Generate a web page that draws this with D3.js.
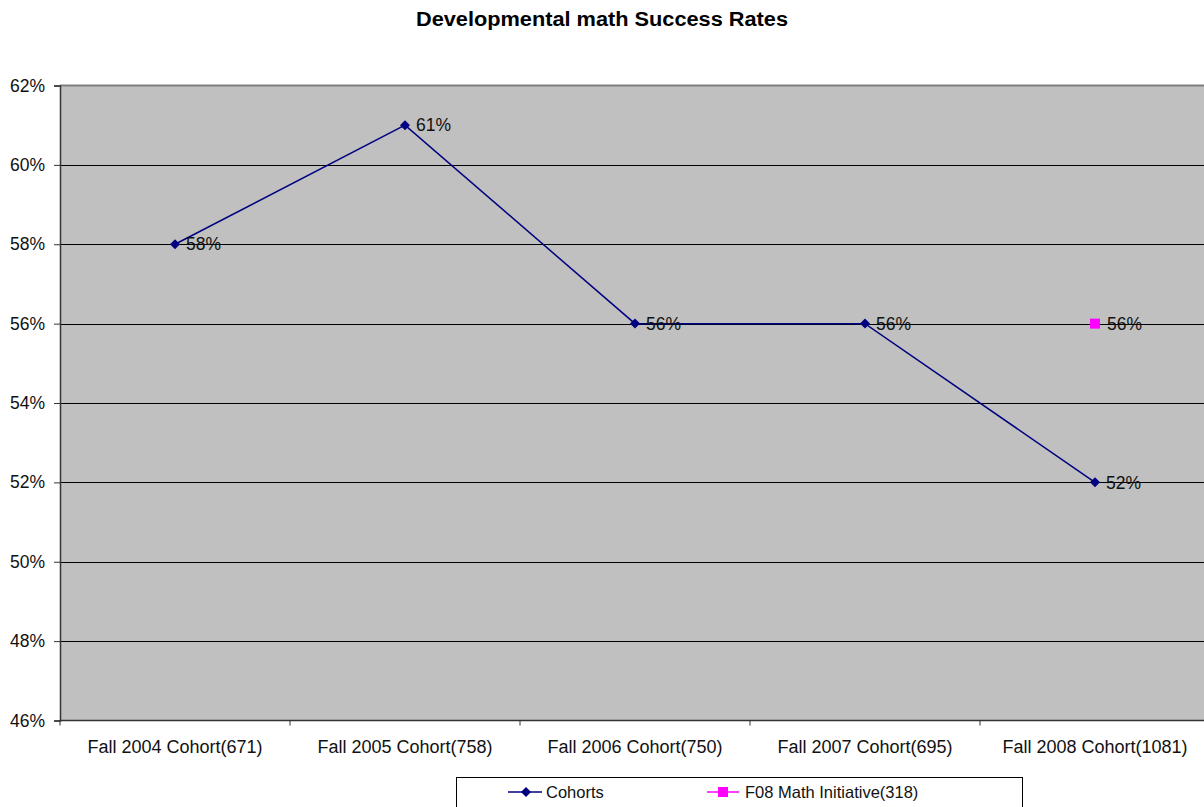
<!DOCTYPE html>
<html>
<head>
<meta charset="utf-8">
<script src="https://cdn.jsdelivr.net/npm/d3@7"></script>
<style>
  html, body { margin: 0; padding: 0; background: #fff; }
  svg { display: block; font-family: "Liberation Sans", Arial, sans-serif; }
</style>
</head>
<body>
<svg id="chart" width="1204" height="807"></svg>
<script>
// Category labels along the x axis
const categories = [
  "Fall 2004 Cohort(671)",
  "Fall 2005 Cohort(758)",
  "Fall 2006 Cohort(750)",
  "Fall 2007 Cohort(695)",
  "Fall 2008 Cohort(1081)"
];
// Success rate for each cohort
const cohortRates = [0.58, 0.61, 0.56, 0.56, 0.52];
// F08 Math Initiative: only the final cohort has a value
const initiativeRates = [null, null, null, null, 0.56];
// Y-axis ticks
const yTicks = [0.46, 0.48, 0.50, 0.52, 0.54, 0.56, 0.58, 0.60, 0.62];

const seriesNames = ["Cohorts", "F08 Math Initiative(318)"];
const colors = { cohorts: "#000080", initiative: "#FF00FF" };
const FONT = "'Liberation Sans', Arial, sans-serif";
const FS = 17.5;

const svg = d3.select("#chart");
const plot = { left: 60, right: 1210, top: 85.5, bottom: 720.5 };

const x = d3.scaleBand().domain(categories).range([plot.left, plot.right]).padding(0);
const y = d3.scaleLinear().domain([0.46, 0.62]).range([plot.bottom, plot.top]);
const pct = d3.format(".0%");

// Title
svg.append("text")
  .attr("x", 602).attr("y", 26)
  .attr("text-anchor", "middle")
  .attr("font-size", 20).attr("font-weight", "bold")
  .attr("textLength", 372).attr("lengthAdjust", "spacingAndGlyphs")
  .attr("fill", "#000")
  .text("Developmental math Success Rates");

// Plot background
svg.append("rect")
  .attr("x", plot.left).attr("y", plot.top)
  .attr("width", plot.right - plot.left).attr("height", plot.bottom - plot.top)
  .attr("fill", "#C0C0C0");

// Top border
svg.append("line")
  .attr("x1", plot.left).attr("x2", plot.right)
  .attr("y1", plot.top).attr("y2", plot.top)
  .attr("stroke", "#808080").attr("stroke-width", 2);

// Horizontal gridlines
svg.append("g")
  .selectAll("line")
  .data(yTicks.filter(d => d > 0.46 && d < 0.62))
  .join("line")
  .attr("x1", plot.left).attr("x2", plot.right)
  .attr("y1", d => Math.round(y(d)) + 0.5).attr("y2", d => Math.round(y(d)) + 0.5)
  .attr("stroke", "#000").attr("stroke-width", 1);

// Y axis
const yAxis = d3.axisLeft(y).tickValues(yTicks).tickFormat(pct).tickSize(6).tickPadding(9);
const gy = svg.append("g").attr("transform", `translate(${plot.left},0)`).call(yAxis);
gy.attr("font-size", null).attr("font-family", null);
gy.select(".domain").attr("stroke", "#333").attr("stroke-width", 1.5);
gy.selectAll(".tick line").attr("stroke", "#333");
gy.selectAll(".tick text").attr("font-size", FS).attr("fill", "#111")
  .attr("font-family", FONT);

// X axis with ticks at category boundaries
const boundaries = categories.map(c => x(c)).concat([plot.right]);
const gx = svg.append("g");
gx.append("line")
  .attr("x1", plot.left).attr("x2", plot.right)
  .attr("y1", plot.bottom).attr("y2", plot.bottom)
  .attr("stroke", "#333").attr("stroke-width", 1.5);
gx.selectAll("line.tick")
  .data(boundaries)
  .join("line").attr("class", "tick")
  .attr("x1", d => d).attr("x2", d => d)
  .attr("y1", plot.bottom).attr("y2", plot.bottom + 5)
  .attr("stroke", "#333");
gx.selectAll("text")
  .data(categories)
  .join("text")
  .attr("x", d => x(d) + x.bandwidth() / 2)
  .attr("y", 753)
  .attr("text-anchor", "middle")
  .attr("font-size", 18).attr("fill", "#111")
  .text(d => d);

const cx = i => x(categories[i]) + x.bandwidth() / 2;

// Cohorts line
const line = d3.line().defined(d => d != null).x((d, i) => cx(i)).y(d => y(d));
svg.append("path")
  .datum(cohortRates)
  .attr("fill", "none")
  .attr("stroke", colors.cohorts)
  .attr("stroke-width", 1.5)
  .attr("d", line);

// Diamond markers
const diamondPath = d3.symbol().type(d3.symbolSquare).size(50);
svg.append("g")
  .selectAll("path")
  .data(cohortRates)
  .join("path")
  .attr("d", diamondPath)
  .attr("transform", (d, i) => `translate(${cx(i)},${y(d)}) rotate(45)`)
  .attr("fill", colors.cohorts);

// Cohort value labels
svg.append("g")
  .selectAll("text")
  .data(cohortRates)
  .join("text")
  .attr("x", (d, i) => cx(i) + 11)
  .attr("y", d => y(d))
  .attr("dy", "0.35em")
  .attr("font-size", FS).attr("fill", "#111")
  .text(d => pct(d));

// Initiative marker and label
const initPts = initiativeRates.map((d, i) => ({ v: d, i })).filter(p => p.v != null);
svg.append("g")
  .selectAll("rect")
  .data(initPts)
  .join("rect")
  .attr("x", p => cx(p.i) - 5).attr("y", p => y(p.v) - 5)
  .attr("width", 10).attr("height", 10)
  .attr("fill", colors.initiative);
svg.append("g")
  .selectAll("text")
  .data(initPts)
  .join("text")
  .attr("x", p => cx(p.i) + 12)
  .attr("y", p => y(p.v))
  .attr("dy", "0.35em")
  .attr("font-size", FS).attr("fill", "#111")
  .text(p => pct(p.v));

// Legend
const legend = svg.append("g");
legend.append("rect")
  .attr("x", 456.5).attr("y", 777.5)
  .attr("width", 566).attr("height", 40)
  .attr("fill", "#fff").attr("stroke", "#000").attr("stroke-width", 1);
const ly = 792;
const LFS = 16.5;
// Cohorts entry
legend.append("line")
  .attr("x1", 508).attr("x2", 542).attr("y1", ly).attr("y2", ly)
  .attr("stroke", colors.cohorts).attr("stroke-width", 1.5);
legend.append("path")
  .attr("d", diamondPath)
  .attr("transform", `translate(526,${ly}) rotate(45)`)
  .attr("fill", colors.cohorts);
legend.append("text")
  .attr("x", 546).attr("y", ly).attr("dy", "0.35em")
  .attr("font-size", LFS).attr("fill", "#111")
  .text(seriesNames[0]);
// Initiative entry
legend.append("line")
  .attr("x1", 707).attr("x2", 739).attr("y1", ly).attr("y2", ly)
  .attr("stroke", colors.initiative).attr("stroke-width", 1.5);
legend.append("rect")
  .attr("x", 718).attr("y", ly - 5).attr("width", 10).attr("height", 10)
  .attr("fill", colors.initiative);
legend.append("text")
  .attr("x", 745).attr("y", ly).attr("dy", "0.35em")
  .attr("font-size", LFS).attr("fill", "#111")
  .text(seriesNames[1]);
</script>
</body>
</html>
